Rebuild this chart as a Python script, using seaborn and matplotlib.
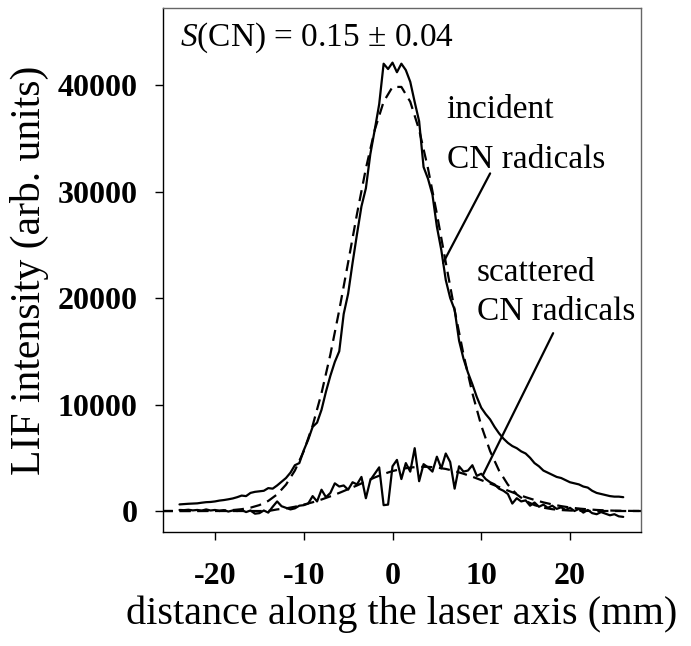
import numpy as np
import pandas as pd
import seaborn as sns
import matplotlib
matplotlib.use("Agg")
import matplotlib.pyplot as plt

# ---------------- data ----------------
x_meas = [-24, -23.5, -23, -22.5, -22, -21.5, -21, -20.5, -20, -19.5, -19, -18.5, -18, -17.5, -17,
          -16.5, -16, -15.5, -15, -14.5, -14, -13.5, -13, -12.5, -12, -11.5, -11, -10.5, -10, -9.5,
          -9, -8.5, -8, -7.5, -7, -6.5, -6, -5.5, -5, -4.5, -4, -3.5, -3, -2.5, -2, -1.5, -1, -0.5,
          0, 0.5, 1, 1.5, 2, 2.5, 3, 3.5, 4, 4.5, 5, 5.5, 6, 6.5, 7, 7.5, 8, 8.5, 9, 9.5, 10, 10.5,
          11, 11.5, 12, 12.5, 13, 13.5, 14, 14.5, 15, 15.5, 16, 16.5, 17, 17.5, 18, 18.5, 19, 19.5,
          20, 20.5, 21, 21.5, 22, 22.5, 23, 23.5, 24, 24.5, 25, 25.5, 26]

incident_meas = [620, 650, 680, 700, 720, 780, 830, 850, 900, 980, 1030, 1100, 1180, 1300, 1450,
                 1400, 1700, 1800, 1850, 1900, 2150, 2100, 2400, 2750, 3100, 3600, 4300, 4500, 5700, 6700,
                 7900, 8300, 9500, 11200, 12700, 14000, 15000, 18500, 20400, 23300, 26000, 28600, 30300,
                 33500, 35800, 38200, 42000, 41500, 42100, 41200, 42000, 41400, 40300, 38400, 36600, 32300,
                 31200, 29700, 26700, 24500, 21700, 20000, 18900, 16000, 14300, 13000, 11900, 10700, 9700,
                 9100, 8600, 7900, 7300, 6800, 6400, 6100, 5900, 5600, 5400, 5000, 4500, 4200, 3800, 3600,
                 3400, 3200, 3100, 2900, 2700, 2600, 2500, 2300, 2200, 1900, 1700, 1600, 1500, 1400, 1350,
                 1350, 1300]

scattered_meas = [100, 80, 120, 60, 100, 40, 150, 50, 100, 0, 80, -50, 50, 0, 100,
                  -100, 50, -250, -200, 50, -150, 400, 900, 450, 300, 150, 250, 500, 550, 700,
                  1400, 900, 2000, 1300, 1700, 2600, 2300, 2400, 2000, 2700, 2500, 3200, 1200, 2900,
                  3500, 4100, 550, 600, 4200, 4800, 3000, 4500, 3700, 5900, 2800, 4400, 4100, 3700,
                  5100, 4000, 5400, 4600, 2100, 4200, 3700, 3800, 4300, 3300, 3500, 3000, 2700, 2500,
                  2100, 1900, 1600, 700, 1200, 900, 1000, 500, 800, 400, 600, 300, 500, 200, 350, 100,
                  300, 0, 200, -150, 100, -200, -300, -100, -250, -400, -300, -500, -550]

x_fit = list(range(-26, 29))
incident_fit = [0, 0, 1, 2, 5, 10, 23, 46, 90, 172, 314, 555, 948, 1560, 2478, 3800, 5620,
                8020, 11060, 14700, 18860, 23340, 27900, 32160, 35790, 38430, 39820, 39820, 38430,
                35790, 32160, 27900, 23340, 18860, 14700, 11060, 8020, 5620, 3800, 2478, 1560, 948,
                555, 314, 172, 90, 46, 23, 10, 5, 2, 1, 0, 0, 0]
scattered_fit = [0, 0, 0, 0, 0, 0, 0, 0, 0, 0, 0, 0, 0, 150, 250, 400, 600, 820, 1080, 1380,
                 1700, 2050, 2400, 2780, 3150, 3480, 3750, 3950, 4080, 4150, 4150, 4080, 3950, 3750,
                 3500, 3220, 2900, 2580, 2250, 1920, 1600, 1300, 1040, 810, 620, 460, 330, 230, 160,
                 100, 60, 35, 20, 10, 5]

x_ticks = [-20, -10, 0, 10, 20]
y_ticks = [0, 10000, 20000, 30000, 40000]

# ---------------- styling ----------------
sns.set_theme(style="ticks")
plt.rcParams["font.family"] = ["Liberation Serif", "DejaVu Serif"]
plt.rcParams["mathtext.fontset"] = "custom"
plt.rcParams["mathtext.rm"] = "Liberation Serif"
plt.rcParams["mathtext.it"] = "Liberation Serif:italic"
plt.rcParams["text.color"] = "black"
plt.rcParams["axes.labelcolor"] = "black"

fig = plt.figure(figsize=(6.91, 6.46), dpi=100)
ax = fig.add_axes([163 / 691, 1 - 532 / 646, (641 - 163) / 691, (532 - 8) / 646])

df_meas = pd.DataFrame({"x": x_meas, "inc": incident_meas, "sca": scattered_meas})
df_fit = pd.DataFrame({"x": x_fit, "inc": incident_fit, "sca": scattered_fit})

lw = 1.6
sns.lineplot(data=df_meas, x="x", y="inc", ax=ax, color="black", lw=lw, estimator=None, sort=False)
sns.lineplot(data=df_meas, x="x", y="sca", ax=ax, color="black", lw=lw, estimator=None, sort=False)
sns.lineplot(data=df_fit, x="x", y="inc", ax=ax, color="black", lw=lw, estimator=None, sort=False)
ax.lines[-1].set_dashes((5, 3))
sns.lineplot(data=df_fit, x="x", y="sca", ax=ax, color="black", lw=lw, estimator=None, sort=False)
ax.lines[-1].set_dashes((5, 3))

ax.set_xlim(-25.86, 28.0)
ax.set_ylim(-1970, 47230)
ax.set_xticks(x_ticks)
ax.set_yticks(y_ticks)
ax.set_xticklabels([str(v) for v in x_ticks], fontsize=23, fontweight="bold", color="black")
ax.set_yticklabels([str(v) for v in y_ticks], fontsize=23, fontweight="bold", color="black")
ax.tick_params(direction="out", length=5.5, width=1, colors="black")
ax.tick_params(axis="x", pad=16)
ax.tick_params(axis="y", pad=13)

ax.set_xlabel("distance along the laser axis (mm)", fontsize=29, labelpad=3, color="black")
ax.set_ylabel("LIF intensity (arb. units)", fontsize=30, labelpad=6, color="black")

for s in ["left", "bottom"]:
    ax.spines[s].set_color("black")
    ax.spines[s].set_linewidth(1.0)
for s in ["top", "right"]:
    ax.spines[s].set_visible(True)
    ax.spines[s].set_color("#666666")
    ax.spines[s].set_linewidth(1.0)

ax.text(-23.9, 44400, r"$S$(CN) = 0.15 ± 0.04", fontsize=24, va="center", ha="left", color="black")
ax.text(6.1, 37700, "incident", fontsize=24, va="center", ha="left", color="black")
ax.text(6.1, 33000, "CN radicals", fontsize=24, va="center", ha="left", color="black")
ax.text(9.5, 22400, "scattered", fontsize=24, va="center", ha="left", color="black")
ax.text(9.5, 18700, "CN radicals", fontsize=24, va="center", ha="left", color="black")

ax.annotate("", xy=(5.7, 23300), xytext=(11.0, 31700),
            arrowprops=dict(arrowstyle="-", lw=1.6, color="black", shrinkA=0, shrinkB=0))
ax.annotate("", xy=(10.2, 3400), xytext=(18.1, 16700),
            arrowprops=dict(arrowstyle="-", lw=1.6, color="black", shrinkA=0, shrinkB=0))

fig.savefig("out.png", dpi=100)
